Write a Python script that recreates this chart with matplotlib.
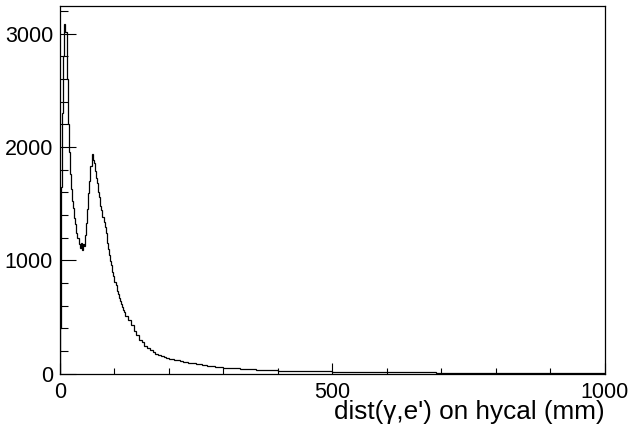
import numpy as np
import matplotlib
matplotlib.use("Agg")
import matplotlib.pyplot as plt
from matplotlib.ticker import MultipleLocator

plt.rcParams['font.family'] = ['Liberation Sans', 'DejaVu Sans']

# bin edges (mm): 2 mm bins up to 120, 5 mm up to 300, 10 mm up to 1000
edges = np.concatenate([np.arange(0, 120, 2), np.arange(120, 300, 5), np.arange(300, 1001, 10)])

# counts
counts_fine = [400, 1650, 2300, 2800, 3090, 3020, 2600, 2200, 1960, 1760,
               1630, 1520, 1460, 1370, 1320, 1240, 1200, 1140, 1110, 1150,
               1090, 1140, 1130, 1220, 1330, 1450, 1590, 1700, 1830, 1940,
               1890, 1860, 1790, 1730, 1680, 1600, 1560, 1480, 1440, 1380,
               1340, 1290, 1240, 1150, 1100, 1050, 990, 960, 900, 860,
               810, 780, 730, 700, 670, 640, 610, 590, 560, 545]
counts_mid = [505, 470, 430, 375, 345, 300, 280, 245, 225, 205,
              192, 176, 166, 154, 148, 138, 133, 126, 123, 117,
              113, 106, 103, 97, 93, 90, 85, 82, 78, 74,
              70, 67, 63, 60, 58, 55]
counts_tail = [52, 48, 45, 42, 39, 36, 34, 32, 30, 29,
               27, 26, 25, 24, 23, 22, 21, 20, 20, 19,
               18, 18, 17, 17, 16, 16, 15, 15, 14, 14,
               13, 13, 12, 12, 11, 11, 10, 10, 10, 9,
               9, 9, 8, 8, 8, 7, 7, 7, 7, 6,
               6, 6, 6, 6, 5, 5, 5, 5, 5, 5,
               5, 4, 4, 4, 4, 4, 4, 4, 4, 4]
counts = np.array(counts_fine + counts_mid + counts_tail)

fig = plt.figure(figsize=(6.3, 4.25), dpi=100)
ax = fig.add_axes([0.0952, 0.121, 0.8651, 0.865])

ax.stairs(counts, edges, color='black', lw=0.9)

ax.set_xlim(0, 1000)
ax.set_ylim(0, 3246)
ax.xaxis.set_major_locator(MultipleLocator(500))
ax.xaxis.set_minor_locator(MultipleLocator(100))
ax.yaxis.set_major_locator(MultipleLocator(1000))
ax.yaxis.set_minor_locator(MultipleLocator(200))

ax.tick_params(axis='both', which='both', direction='in', top=False, right=False,
               labelsize=15.5, width=0.8)
ax.tick_params(axis='x', which='major', pad=6)
ax.tick_params(axis='y', which='major', pad=5)
ax.tick_params(axis='y', which='major', length=11.5)
ax.tick_params(axis='y', which='minor', length=5.8)
ax.tick_params(axis='x', which='major', length=8)
ax.tick_params(axis='x', which='minor', length=4)
for s in ax.spines.values():
    s.set_linewidth(0.9)

ax.set_xlabel("dist(\u03b3,e') on hycal (mm)", fontsize=18.8, loc='right', labelpad=-2)

fig.savefig("out.png", dpi=100)
